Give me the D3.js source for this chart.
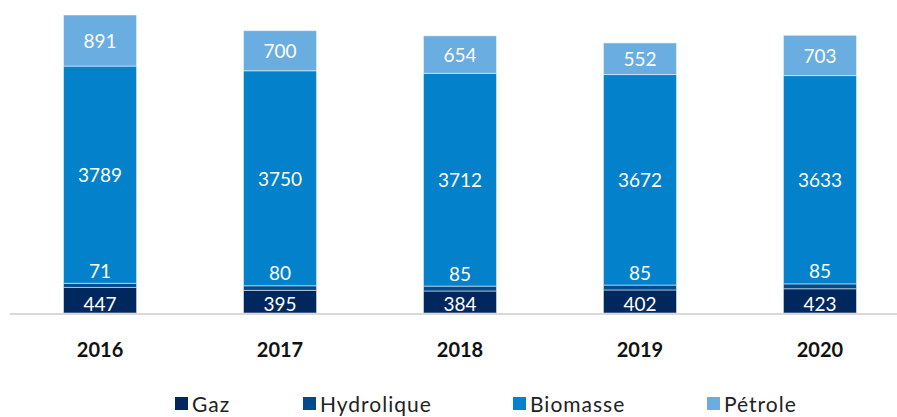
<!DOCTYPE html>
<html>
<head>
<meta charset="utf-8">
<script src="https://cdn.jsdelivr.net/npm/d3@7"></script>
<style>
  body { margin: 0; background: #fff; }
  svg { display: block; }
</style>
</head>
<body>
<script>
const years = ['2016', '2017', '2018', '2019', '2020'];
const seriesNames = ['Gaz', 'Hydrolique', 'Biomasse', 'Pétrole'];
const gaz = [447, 395, 384, 402, 423];
const hydrolique = [71, 80, 85, 85, 85];
const biomasse = [3789, 3750, 3712, 3672, 3633];
const petrole = [891, 700, 654, 552, 703];
const colors = ['#00285e', '#004b8d', '#0381cb', '#6aade0'];

const svgWidth = 897, svgHeight = 417;
const baseline = 313;

const rows = years.map((y, i) => ({
  year: y,
  'Gaz': gaz[i],
  'Hydrolique': hydrolique[i],
  'Biomasse': biomasse[i],
  'Pétrole': petrole[i]
}));

const stacked = d3.stack().keys(seriesNames)(rows);

const svg = d3.select('body')
  .append('svg')
  .attr('width', svgWidth)
  .attr('height', svgHeight);

const xScale = d3.scaleBand()
  .domain(years)
  .range([9.5, 910.5])
  .paddingInner(0.594)
  .paddingOuter(0.3);

const yScale = d3.scaleLinear()
  .domain([0, 5198])
  .range([baseline, 15]);

// bars
const layers = svg.selectAll('g.layer')
  .data(stacked)
  .enter()
  .append('g')
  .attr('class', 'layer')
  .attr('fill', (_, i) => colors[i]);

layers.selectAll('rect')
  .data(d => d)
  .enter()
  .append('rect')
  .attr('x', d => xScale(d.data.year))
  .attr('y', d => yScale(d[1]))
  .attr('width', xScale.bandwidth())
  .attr('height', d => yScale(d[0]) - yScale(d[1]))
  .attr('stroke', '#ffffff')
  .attr('stroke-opacity', 0.5)
  .attr('stroke-width', 1);

// value labels, drawn on top of all bars
const labels = svg.append('g');
stacked.forEach((layer, li) => {
  labels.selectAll('text.l' + li)
    .data(layer)
    .enter()
    .append('text')
    .attr('class', 'l' + li)
    .attr('x', d => xScale(d.data.year) + xScale.bandwidth() / 2)
    .attr('y', d => {
      if (li === 1) return yScale(d[1]) - 13;
      if (li === 0) return yScale(d[0]) - 10;
      return (yScale(d[0]) + yScale(d[1])) / 2;
    })
    .attr('text-anchor', 'middle')
    .attr('dominant-baseline', 'central')
    .attr('fill', '#ffffff')
    .style('font-family', 'Lato, sans-serif')
    .style('font-size', '19px')
    .text(d => d.data[layer.key]);
});

// axis line
svg.append('line')
  .attr('x1', 10)
  .attr('x2', svgWidth)
  .attr('y1', baseline + 1)
  .attr('y2', baseline + 1)
  .attr('stroke', '#d9d9d9')
  .attr('stroke-width', 2);

// year labels
svg.selectAll('text.year')
  .data(years)
  .enter()
  .append('text')
  .attr('class', 'year')
  .attr('x', d => xScale(d) + xScale.bandwidth() / 2)
  .attr('y', 349)
  .attr('text-anchor', 'middle')
  .attr('dominant-baseline', 'central')
  .attr('fill', '#111')
  .style('font-family', 'Lato, sans-serif')
  .style('font-weight', 'bold')
  .style('font-size', '20px')
  .text(d => d);

// legend
const legendX = [175, 303, 513, 707];
const legend = svg.selectAll('g.legend')
  .data(seriesNames)
  .enter()
  .append('g')
  .attr('class', 'legend')
  .attr('transform', (_, i) => `translate(${legendX[i]}, 397)`);

legend.append('rect')
  .attr('width', 13)
  .attr('height', 13)
  .attr('fill', (_, i) => colors[i]);

legend.append('text')
  .attr('x', 17)
  .attr('y', 6)
  .attr('dominant-baseline', 'central')
  .attr('fill', '#222')
  .style('font-family', 'Lato, sans-serif')
  .style('font-size', '21px')
  .style('letter-spacing', '1px')
  .text(d => d);
</script>
</body>
</html>
